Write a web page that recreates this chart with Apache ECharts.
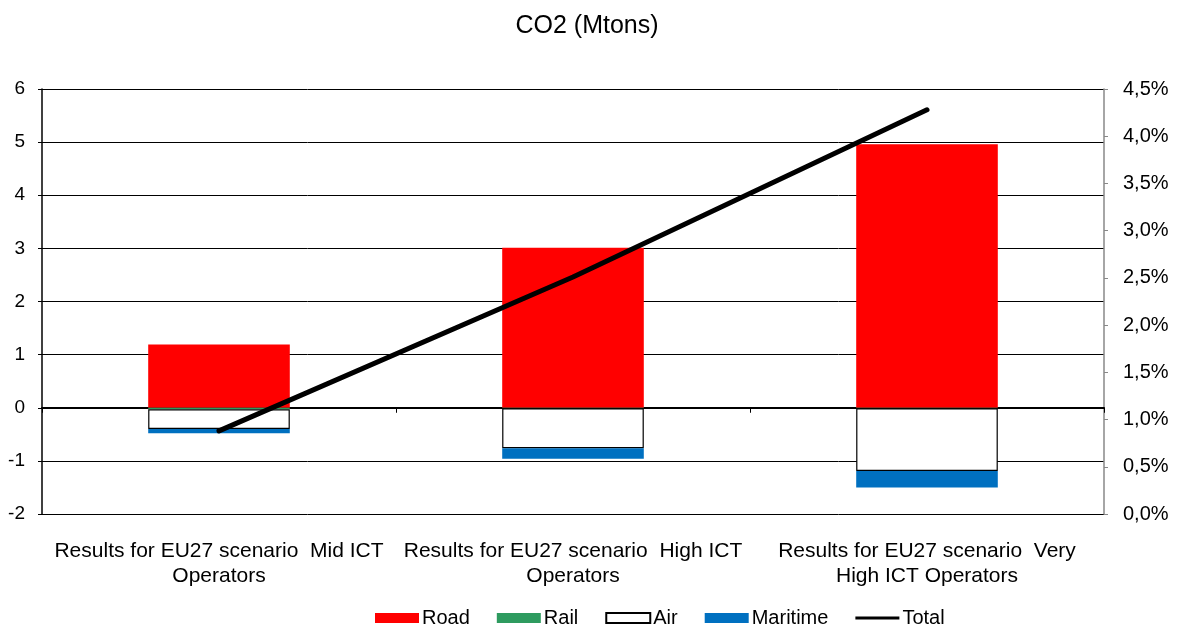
<!DOCTYPE html>
<html><head><meta charset="utf-8">
<script src="https://cdn.jsdelivr.net/npm/echarts@6/dist/echarts.min.js"></script>
<style>html,body{margin:0;padding:0;background:#fff}#c{width:1182px;height:628px}</style>
</head><body><div id="c"></div>
<script>
const categories = [
  "Results for EU27 scenario  Mid ICT\nOperators",
  "Results for EU27 scenario  High ICT\nOperators",
  "Results for EU27 scenario  Very\nHigh ICT Operators"
];
const road = [1.19, 3.01, 4.96];
const rail = [-0.03, -0.01, -0.01];
const air = [-0.37, -0.75, -1.18];
const maritime = [-0.08, -0.20, -0.31];
const total = [0.0088, 0.0251, 0.0428];
const leftTicks = {min: -2, max: 6, interval: 1};
const rightTicks = {min: 0, max: 0.045, interval: 0.005};

const font = "'Liberation Sans', Arial, sans-serif";
const chart = echarts.init(document.getElementById('c'), null, {renderer: 'canvas'});
chart.setOption({
  animation: false,
  textStyle: {fontFamily: font},
  title: {text: 'CO2 (Mtons)', left: 582, textAlign: 'center', top: 9,
    textStyle: {fontFamily: font, fontSize: 25, fontWeight: 'normal', color: '#000'}},
  grid: {left: 42, right: 78, top: 89, bottom: 114, containLabel: false},
  legend: {
    top: 603, left: 370, itemWidth: 44, itemHeight: 10, itemGap: 27, icon: 'rect',
    textStyle: {fontFamily: font, fontSize: 20, color: '#000', padding: [0,0,0,-2]},
    data: [
      {name: 'Road'}, {name: 'Rail'}, {name: 'Air'}, {name: 'Maritime'},
      {name: 'Total', icon: 'path://M0,0 L44,0 L44,3 L0,3 Z', itemStyle: {color: '#000'}}
    ]
  },
  xAxis: [
    {type: 'category', data: categories, position: 'bottom',
      axisLine: {show: false, onZero: false}, axisTick: {show: false},
      axisLabel: {fontFamily: font, fontSize: 21, color: '#000', lineHeight: 25, margin: 25, interval: 0}},
    {type: 'category', data: categories, position: 'bottom',
      axisLine: {show: true, onZero: true, lineStyle: {color: '#000', width: 2}},
      axisTick: {show: true, length: 5, lineStyle: {color: '#000'}},
      axisLabel: {show: false}}
  ],
  yAxis: [
    {type: 'value', min: leftTicks.min, max: leftTicks.max, interval: leftTicks.interval,
      axisLine: {show: true, lineStyle: {color: '#000', width: 1.5}},
      axisTick: {show: true, length: 4, lineStyle: {color: '#000'}},
      axisLabel: {fontFamily: font, fontSize: 19, color: '#000', margin: 17},
      splitLine: {show: true, lineStyle: {color: '#000', width: 1}}},
    {type: 'value', min: rightTicks.min, max: rightTicks.max, interval: rightTicks.interval,
      position: 'right',
      axisLine: {show: true, lineStyle: {color: '#888', width: 1.5}},
      axisTick: {show: true, length: 4, lineStyle: {color: '#888'}},
      axisLabel: {fontFamily: font, fontSize: 20, color: '#000', margin: 19,
        formatter: v => (v * 100).toFixed(1).replace('.', ',') + '%'},
      splitLine: {show: false}}
  ],
  series: [
    {name: 'Road', type: 'bar', stack: 's', data: road, barWidth: '40%',
      itemStyle: {color: '#FF0000'}},
    {name: 'Rail', type: 'bar', stack: 's', data: rail,
      itemStyle: {color: '#2E9B5F'}},
    {name: 'Air', type: 'bar', stack: 's', data: air,
      itemStyle: {color: '#FFFFFF', borderColor: '#000', borderWidth: 1.2}},
    {name: 'Maritime', type: 'bar', stack: 's', data: maritime,
      itemStyle: {color: '#0070C0'}},
    {name: 'Total', type: 'line', yAxisIndex: 1, data: total, symbol: 'none',
      lineStyle: {color: '#000', width: 5, cap: 'round'}, itemStyle: {color: '#000'}, z: 5}
  ]
});
</script></body></html>
